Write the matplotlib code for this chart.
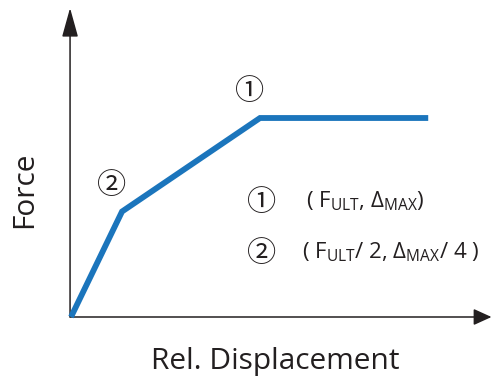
import matplotlib
matplotlib.use("Agg")
import matplotlib.pyplot as plt

# Data (units of Δ_MAX on x, F_ULT on y)
disp = [0.0, 0.27, 1.0, 1.89]
force = [0.0, 0.53, 1.0, 1.0]
point_labels = ["②", "①"]
point_idx = [1, 2]
legend_lines = [r"( F$_{\mathregular{ULT}}$, Δ$_{\mathregular{MAX}}$)",
                r"( F$_{\mathregular{ULT}}$/ 2, Δ$_{\mathregular{MAX}}$/ 4 )"]
xlabel = "Rel. Displacement"
ylabel = "Force"

fam = ["Open Sans", "Noto Sans CJK SC", "DejaVu Sans"]
plt.rcParams["font.family"] = fam
plt.rcParams["mathtext.fontset"] = "custom"
plt.rcParams["mathtext.rm"] = "Open Sans"

W, H = 492, 383
ox, oy, sx, sy = 71, 317, 189, 199
fig = plt.figure(figsize=(W / 100, H / 100), dpi=100)
ax = fig.add_axes([0, 0, 1, 1])
ax.set_xlim(-ox / sx, (W - ox) / sx)
ax.set_ylim(-(H - oy) / sy, oy / sy)
ax.axis("off")

axc = "#231f20"
cfam = ["Noto Sans CJK SC", "DejaVu Sans"]
ax.annotate("", xy=((W - 0.5 - ox) / sx, 0), xytext=(-0.005, 0),
            arrowprops=dict(arrowstyle="-|>,head_length=11,head_width=5", mutation_scale=1,
                            color=axc, lw=1.1, shrinkA=0, shrinkB=0))
ax.annotate("", xy=(-0.005, (oy - 8) / sy), xytext=(-0.005, 0),
            arrowprops=dict(arrowstyle="-|>,head_length=18,head_width=5", mutation_scale=1,
                            color=axc, lw=1.1, shrinkA=0, shrinkB=0))

ax.plot(disp, force, color="#1b75bc", lw=4.2, solid_joinstyle="miter", solid_capstyle="butt", zorder=3)

for lab, i in zip(point_labels, point_idx):
    ax.text(disp[i] - 0.053, force[i] + 0.13, lab, fontsize=21, ha="center", va="center",
            color=axc, family=cfam)

ax.text((262 - ox) / sx, (oy - 203) / sy, point_labels[1], fontsize=21, ha="center", va="center",
        color=axc, family=cfam)
ax.text((262 - ox) / sx, (oy - 254) / sy, point_labels[0], fontsize=21, ha="center", va="center",
        color=axc, family=cfam)
ax.text((306 - ox) / sx, (oy - 201) / sy, legend_lines[0], fontsize=16, ha="left", va="center", color=axc)
ax.text((302 - ox) / sx, (oy - 252) / sy, legend_lines[1], fontsize=16, ha="left", va="center", color=axc)

ax.text((275 - ox) / sx, -(361 - oy) / sy, xlabel, fontsize=21.5, ha="center", va="center", color=axc)
ax.text(-(ox - 25) / sx, (oy - 190) / sy, ylabel, fontsize=21.5, ha="center", va="center",
        rotation=90, color=axc)

fig.savefig("out.png", dpi=100)
